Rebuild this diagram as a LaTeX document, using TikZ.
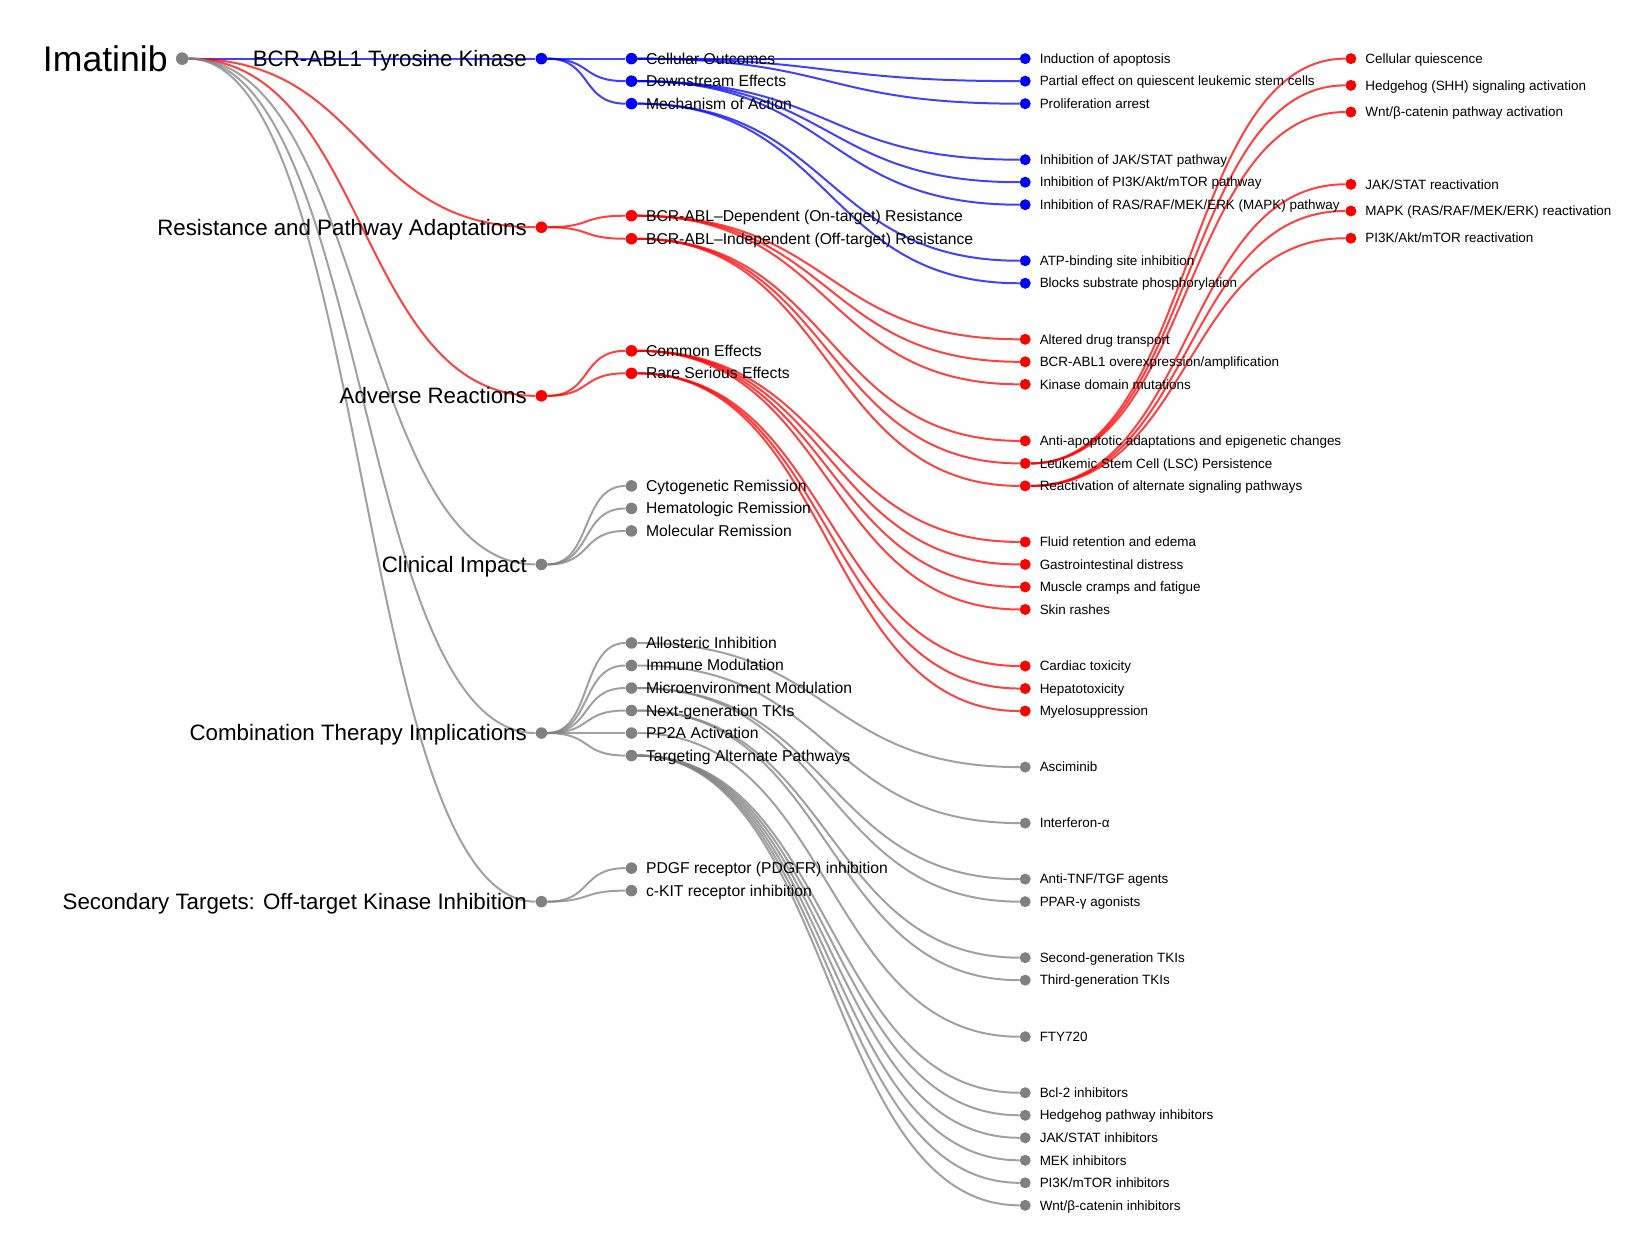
\documentclass[tikz,border=0pt]{standalone}
\usepackage{fontspec}
\setmainfont{Liberation Sans}
\usetikzlibrary{backgrounds}

\begin{document}
\begin{tikzpicture}[x=1pt,y=-1pt,
    rootnd/.style={circle,fill=gray,inner sep=0pt,minimum size=12pt,
      label={[inner sep=0pt,text height=23.8pt,text depth=0pt,label distance=7.5pt,font=\fontsize{34}{40}\selectfont]left:#1}},
    topnd/.style 2 args={circle,fill=#1,inner sep=0pt,minimum size=11pt,
      label={[inner sep=0pt,text height=15pt,text depth=0pt,label distance=8pt,font=\fontsize{21.3}{26}\selectfont]left:#2}},
    midnd/.style 2 args={circle,fill=#1,inner sep=0pt,minimum size=11pt,
      label={[inner sep=0pt,text height=10.5pt,text depth=0pt,label distance=8pt,font=\fontsize{15}{18}\selectfont]right:#2}},
    leafnd/.style 2 args={circle,fill=#1,inner sep=0pt,minimum size=10.5pt,
      label={[inner sep=0pt,text height=9pt,text depth=0pt,label distance=8.25pt,font=\fontsize{12.85}{15}\selectfont]right:#2}},
    lnk/.style={draw=#1,draw opacity=0.75,line width=1.9pt,out=0,in=180},
    lvone/.style={lnk=#1,distance=171.5pt},
    lvtwo/.style={lnk=#1,distance=43pt},
    lvthree/.style={lnk=#1,distance=188pt},
    lvfour/.style={lnk=#1,distance=155.5pt}]

\useasboundingbox (0,0) rectangle (1568,1199);

\node[rootnd={Imatinib}] (imat) at (174,56) {};

\node[topnd={blue}{BCR-ABL1 Tyrosine Kinase}] (bcr) at (517,56) {};
\node[topnd={red}{Resistance and Pathway Adaptations}] (resist) at (517,217) {};
\node[topnd={red}{Adverse Reactions}] (adverse) at (517,378) {};
\node[topnd={gray}{Clinical Impact}] (clinic) at (517,539) {};
\node[topnd={gray}{Combination Therapy Implications}] (combo) at (517,700) {};
\node[topnd={gray}{Secondary Targets: Off-target Kinase Inhibition}] (second) at (517,861) {};

\node[midnd={blue}{Cellular Outcomes}] (cellout) at (603,56) {};
\node[midnd={blue}{Downstream Effects}] (downeff) at (603,77.5) {};
\node[midnd={blue}{Mechanism of Action}] (mech) at (603,99) {};
\node[midnd={red}{BCR-ABL–Dependent (On-target) Resistance}] (ontgt) at (603,206) {};
\node[midnd={red}{BCR-ABL–Independent (Off-target) Resistance}] (offtgt) at (603,228) {};
\node[midnd={red}{Common Effects}] (common) at (603,335) {};
\node[midnd={red}{Rare Serious Effects}] (rare) at (603,356.5) {};
\node[midnd={gray}{Cytogenetic Remission}] (cyto) at (603,464) {};
\node[midnd={gray}{Hematologic Remission}] (hema) at (603,485.5) {};
\node[midnd={gray}{Molecular Remission}] (molec) at (603,507) {};
\node[midnd={gray}{Allosteric Inhibition}] (allo) at (603,614) {};
\node[midnd={gray}{Immune Modulation}] (immune) at (603,635.5) {};
\node[midnd={gray}{Microenvironment Modulation}] (micro) at (603,657) {};
\node[midnd={gray}{Next-generation TKIs}] (nextgen) at (603,678.5) {};
\node[midnd={gray}{PP2A Activation}] (pptwoa) at (603,700) {};
\node[midnd={gray}{Targeting Alternate Pathways}] (altpath) at (603,721.5) {};
\node[midnd={gray}{PDGF receptor (PDGFR) inhibition}] (pdgfr) at (603,829) {};
\node[midnd={gray}{c-KIT receptor inhibition}] (ckit) at (603,850.5) {};

\node[leafnd={blue}{Induction of apoptosis}] (apopt) at (979,56) {};
\node[leafnd={blue}{Partial effect on quiescent leukemic stem cells}] (partial) at (979,77.5) {};
\node[leafnd={blue}{Proliferation arrest}] (prolif) at (979,99) {};
\node[leafnd={blue}{Inhibition of JAK/STAT pathway}] (jakstat) at (979,152.5) {};
\node[leafnd={blue}{Inhibition of PI3K/Akt/mTOR pathway}] (pikinh) at (979,174) {};
\node[leafnd={blue}{Inhibition of RAS/RAF/MEK/ERK (MAPK) pathway}] (rasinh) at (979,195.5) {};
\node[leafnd={blue}{ATP-binding site inhibition}] (atp) at (979,249) {};
\node[leafnd={blue}{Blocks substrate phosphorylation}] (blocks) at (979,270.5) {};
\node[leafnd={red}{Altered drug transport}] (transp) at (979,324) {};
\node[leafnd={red}{BCR-ABL1 overexpression/amplification}] (overexp) at (979,345.5) {};
\node[leafnd={red}{Kinase domain mutations}] (kinmut) at (979,367) {};
\node[leafnd={red}{Anti-apoptotic adaptations and epigenetic changes}] (antiapo) at (979,421) {};
\node[leafnd={red}{Leukemic Stem Cell (LSC) Persistence}] (lsc) at (979,442.5) {};
\node[leafnd={red}{Reactivation of alternate signaling pathways}] (reactiv) at (979,464) {};
\node[leafnd={red}{Fluid retention and edema}] (fluid) at (979,517.5) {};
\node[leafnd={red}{Gastrointestinal distress}] (gastro) at (979,539) {};
\node[leafnd={red}{Muscle cramps and fatigue}] (cramps) at (979,560.5) {};
\node[leafnd={red}{Skin rashes}] (rash) at (979,582) {};
\node[leafnd={red}{Cardiac toxicity}] (cardiac) at (979,636) {};
\node[leafnd={red}{Hepatotoxicity}] (hepato) at (979,657.5) {};
\node[leafnd={red}{Myelosuppression}] (myelo) at (979,679) {};
\node[leafnd={gray}{Asciminib}] (ascim) at (979,732.5) {};
\node[leafnd={gray}{Interferon-α}] (interf) at (979,786) {};
\node[leafnd={gray}{Anti-TNF/TGF agents}] (antitnf) at (979,839.5) {};
\node[leafnd={gray}{PPAR-γ agonists}] (ppar) at (979,861) {};
\node[leafnd={gray}{Second-generation TKIs}] (secgen) at (979,914.5) {};
\node[leafnd={gray}{Third-generation TKIs}] (thirdgen) at (979,936) {};
\node[leafnd={gray}{FTY720}] (fty) at (979,990) {};
\node[leafnd={gray}{Bcl-2 inhibitors}] (bcltwo) at (979,1043.5) {};
\node[leafnd={gray}{Hedgehog pathway inhibitors}] (hhinh) at (979,1065) {};
\node[leafnd={gray}{JAK/STAT inhibitors}] (jakinh) at (979,1086.5) {};
\node[leafnd={gray}{MEK inhibitors}] (mekinh) at (979,1108) {};
\node[leafnd={gray}{PI3K/mTOR inhibitors}] (pimtor) at (979,1129.5) {};
\node[leafnd={gray}{Wnt/β-catenin inhibitors}] (wntinh) at (979,1151) {};

\node[leafnd={red}{Cellular quiescence}] (quies) at (1290,56) {};
\node[leafnd={red}{Hedgehog (SHH) signaling activation}] (shh) at (1290,81.5) {};
\node[leafnd={red}{Wnt/β-catenin pathway activation}] (wntact) at (1290,107) {};
\node[leafnd={red}{JAK/STAT reactivation}] (jakre) at (1290,176) {};
\node[leafnd={red}{MAPK (RAS/RAF/MEK/ERK) reactivation}] (mapkre) at (1290,201.5) {};
\node[leafnd={red}{PI3K/Akt/mTOR reactivation}] (pire) at (1290,227.5) {};

\begin{scope}[on background layer]
\draw[lvone=blue] (imat) to (bcr);
\draw[lvone=red] (imat) to (resist);
\draw[lvone=red] (imat) to (adverse);
\draw[lvone=gray] (imat) to (clinic);
\draw[lvone=gray] (imat) to (combo);
\draw[lvone=gray] (imat) to (second);

\draw[lvtwo=blue] (bcr) to (cellout);
\draw[lvtwo=blue] (bcr) to (downeff);
\draw[lvtwo=blue] (bcr) to (mech);
\draw[lvtwo=red] (resist) to (ontgt);
\draw[lvtwo=red] (resist) to (offtgt);
\draw[lvtwo=red] (adverse) to (common);
\draw[lvtwo=red] (adverse) to (rare);
\draw[lvtwo=gray] (clinic) to (cyto);
\draw[lvtwo=gray] (clinic) to (hema);
\draw[lvtwo=gray] (clinic) to (molec);
\draw[lvtwo=gray] (combo) to (allo);
\draw[lvtwo=gray] (combo) to (immune);
\draw[lvtwo=gray] (combo) to (micro);
\draw[lvtwo=gray] (combo) to (nextgen);
\draw[lvtwo=gray] (combo) to (pptwoa);
\draw[lvtwo=gray] (combo) to (altpath);
\draw[lvtwo=gray] (second) to (pdgfr);
\draw[lvtwo=gray] (second) to (ckit);

\draw[lvthree=blue] (cellout) to (apopt);
\draw[lvthree=blue] (cellout) to (partial);
\draw[lvthree=blue] (cellout) to (prolif);
\draw[lvthree=blue] (downeff) to (jakstat);
\draw[lvthree=blue] (downeff) to (pikinh);
\draw[lvthree=blue] (downeff) to (rasinh);
\draw[lvthree=blue] (mech) to (atp);
\draw[lvthree=blue] (mech) to (blocks);
\draw[lvthree=red] (ontgt) to (transp);
\draw[lvthree=red] (ontgt) to (overexp);
\draw[lvthree=red] (ontgt) to (kinmut);
\draw[lvthree=red] (offtgt) to (antiapo);
\draw[lvthree=red] (offtgt) to (lsc);
\draw[lvthree=red] (offtgt) to (reactiv);
\draw[lvthree=red] (common) to (fluid);
\draw[lvthree=red] (common) to (gastro);
\draw[lvthree=red] (common) to (cramps);
\draw[lvthree=red] (common) to (rash);
\draw[lvthree=red] (rare) to (cardiac);
\draw[lvthree=red] (rare) to (hepato);
\draw[lvthree=red] (rare) to (myelo);
\draw[lvthree=gray] (allo) to (ascim);
\draw[lvthree=gray] (immune) to (interf);
\draw[lvthree=gray] (micro) to (antitnf);
\draw[lvthree=gray] (micro) to (ppar);
\draw[lvthree=gray] (nextgen) to (secgen);
\draw[lvthree=gray] (nextgen) to (thirdgen);
\draw[lvthree=gray] (pptwoa) to (fty);
\draw[lvthree=gray] (altpath) to (bcltwo);
\draw[lvthree=gray] (altpath) to (hhinh);
\draw[lvthree=gray] (altpath) to (jakinh);
\draw[lvthree=gray] (altpath) to (mekinh);
\draw[lvthree=gray] (altpath) to (pimtor);
\draw[lvthree=gray] (altpath) to (wntinh);

\draw[lvfour=red] (lsc) to (quies);
\draw[lvfour=red] (lsc) to (shh);
\draw[lvfour=red] (lsc) to (wntact);
\draw[lvfour=red] (reactiv) to (jakre);
\draw[lvfour=red] (reactiv) to (mapkre);
\draw[lvfour=red] (reactiv) to (pire);
\end{scope}
\end{tikzpicture}
\end{document}
